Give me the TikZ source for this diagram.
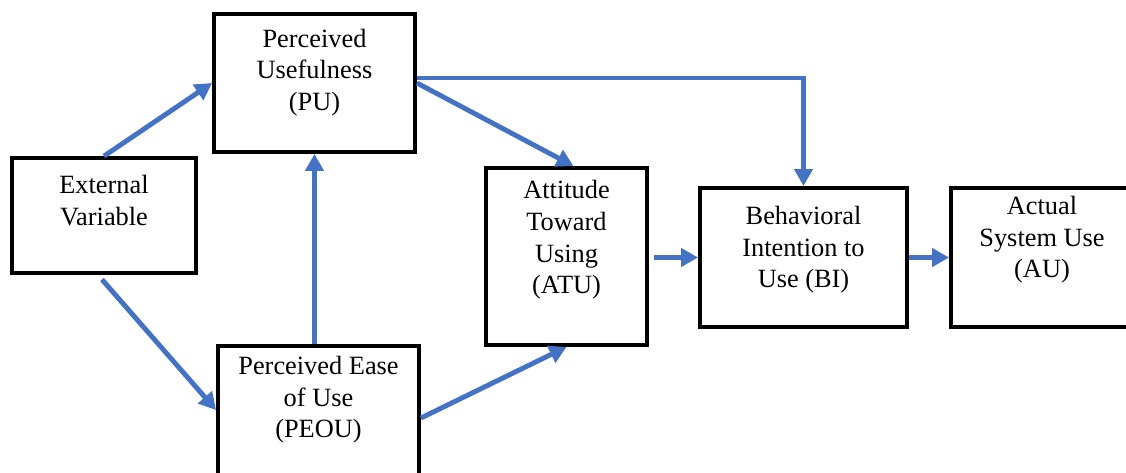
\documentclass[tikz,border=0pt]{standalone}
\usepackage{fontspec}
\setmainfont{Liberation Serif}
\definecolor{tam_blue}{RGB}{68, 114, 196}
\usepackage{tikz}
\usetikzlibrary{arrows.meta, positioning, calc}

\begin{document}
\begin{tikzpicture}[
    box/.style={draw, line width=2.2pt, inner sep=0pt},
    txt/.style={align=center, font=\fontsize{15}{18}\selectfont},
    link/.style={draw=tam_blue, line width=2.8pt, -{Triangle[length=0.34cm, width=0.36cm]}}
  ]
  \useasboundingbox (0,0) rectangle (22.52,-9.44);

  \node[box, minimum width=3.68cm, minimum height=2.30cm, label={[txt, yshift=0.30cm]center:External\\Variable}] (ext) at (2.08,-4.31) {};
  \node[box, minimum width=4.02cm, minimum height=2.76cm, label={[txt, yshift=0.21cm]center:Perceived\\Usefulness\\(PU)}] (pu) at (6.29,-1.66) {};
  \node[box, minimum width=4.02cm, minimum height=2.88cm, label={[txt, yshift=0.36cm]center:Perceived Ease\\of Use\\(PEOU)}] (peou) at (6.37,-8.36) {};
  \node[box, minimum width=3.22cm, minimum height=3.54cm, label={[txt, yshift=0.33cm]center:Attitude\\Toward\\Using\\(ATU)}] (atu) at (11.33,-5.13) {};
  \node[box, minimum width=4.14cm, minimum height=2.78cm, label={[txt, yshift=0.15cm]center:Behavioral\\Intention to\\Use (BI)}] (bi) at (16.07,-5.15) {};
  \node[box, minimum width=3.64cm, minimum height=2.78cm, label={[txt, yshift=0.35cm]center:Actual\\System Use\\(AU)}] (au) at (20.84,-5.15) {};

  % links
  \draw[link] (ext.north) -- (pu.west);
  \draw[link, shorten <=0.12cm] ([xshift=-0.12cm]ext.south) -- ($(peou.west)+(0,0.16)$);
  \draw[link] (pu.south |- peou.north) -- (pu.south);
  \draw[link] (peou.east) -- (atu.south);
  \draw[link] (pu.east) -- ([xshift=0.14cm]atu.north);
  \draw[link] ([yshift=0.1cm]pu.east) -| (bi.north);
  \draw[link, shorten <=0.1cm] (atu.east |- bi.west) -- (bi.west);
  \draw[link] (bi.east) -- (au.west);
\end{tikzpicture}
\end{document}
